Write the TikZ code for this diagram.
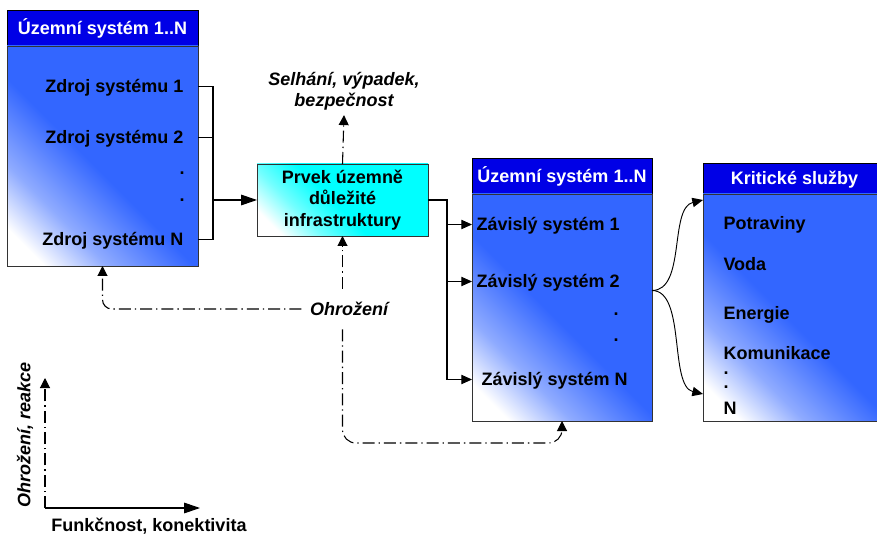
\documentclass[tikz,border=0pt]{standalone}
\usepackage{fontspec}
\setmainfont{Liberation Sans}
\usetikzlibrary{positioning,arrows.meta,calc}

\definecolor{headblue}{RGB}{0,0,230}
\definecolor{bodyblue}{RGB}{51,102,255}
\definecolor{infcyan}{RGB}{0,255,255}
\pgfdeclareverticalshading{bodyshade}{100bp}{color(0bp)=(white); color(21bp)=(white); color(32bp)=(bodyblue!55!white); color(47bp)=(bodyblue); color(100bp)=(bodyblue)}
\pgfdeclareverticalshading{cyanshade}{100bp}{color(0bp)=(white); color(22bp)=(white); color(34bp)=(infcyan!55!white); color(47bp)=(infcyan); color(100bp)=(infcyan)}

\begin{document}
\begin{tikzpicture}[x=0.75pt,y=-0.75pt,
  font=\bfseries\fontsize{13.5}{16}\selectfont,
  line width=0.8pt,
  head/.style={draw=black,line width=0.6pt,fill=headblue,text=white,inner sep=0pt,outer sep=0pt,text height=9.7pt,text depth=0pt},
  body/.style={draw=black!80,line width=0.6pt,shade,shading=bodyshade,shading angle=-45,inner sep=0pt,outer sep=0pt},
  infra/.style={draw=black!80,line width=0.6pt,shade,shading=cyanshade,shading angle=-45,align=center,inner sep=0pt,outer sep=0pt,
    minimum width=128.25pt,minimum height=54pt},
  item/.style={inner sep=0pt,text height=9.7pt,text depth=0pt},
  dotn/.style={inner sep=0pt},
  note/.style={font=\bfseries\itshape\fontsize{13.5}{16}\selectfont,align=center},
  sig/.style={-{Triangle[length=8pt,width=7pt]}},
  bigsig/.style={-{Triangle[length=12pt,width=8pt]}},
  threat/.style={dash pattern=on 9pt off 3pt on 1pt off 3pt,-{Triangle[length=7.5pt,width=7.5pt]}},
]
\useasboundingbox (0,0) rectangle (877,534);

% source territory
\node[head,minimum width=143.25pt,minimum height=27pt,anchor=north west] (b1head) at (7,10) {Územní systém 1..N};
\node[body,minimum width=143.25pt,minimum height=165pt,below=0pt of b1head] (b1body) {};
\node[item,anchor=east] (z1) at (184,86.5) {Zdroj systému 1};
\node[item,anchor=east] (z2) at (184,137.5) {Zdroj systému 2};
\node[dotn] (zd1) at (182,173) {.};
\node[dotn] (zd2) at (182,200) {.};
\node[item,anchor=east] (zN) at (184,239.5) {Zdroj systému N};

% infrastructure element
\node[infra,anchor=north west] (cbox) at (257,164) {Prvek územně\\důležité\\infrastruktury};
\node[note] (fail) at (344,91) {Selhání, výpadek,\\bezpečnost};

% dependent territory
\node[head,minimum width=135pt,minimum height=27pt,anchor=north west] (b2head) at (472,158) {Územní systém 1..N};
\node[body,minimum width=135pt,minimum height=170.25pt,below=0pt of b2head] (b2body) {};
\node[item,anchor=west] (zav1) at (476,224.5) {Závislý systém 1};
\node[item,anchor=west] (zav2) at (476,281.5) {Závislý systém 2};
\node[dotn] (zavd1) at (616,314) {.};
\node[dotn] (zavd2) at (616,340) {.};
\node[item,anchor=west] (zavN) at (481,379.5) {Závislý systém N};

% critical services
\node[head,minimum width=137.25pt,minimum height=23.25pt,anchor=north west] (b3head) at (703,163) {Kritické služby};
\node[body,minimum width=137.25pt,minimum height=170.25pt,below=0pt of b3head] (b3body) {};
\node[item,anchor=west] (s1) at (723,223) {Potraviny};
\node[item,anchor=west] (s2) at (723,264.5) {Voda};
\node[item,anchor=west] (s3) at (723,313) {Energie};
\node[item,anchor=west] (s4) at (723,353) {Komunikace};
\node[dotn,anchor=west] (sd1) at (723,373) {.};
\node[dotn,anchor=west] (sd2) at (723,387) {.};
\node[item,anchor=west] (sN) at (723,408.5) {N};

% threat label
\node[note,inner xsep=6pt,inner ysep=10pt,text height=9.7pt,text depth=0pt] (ohr) at (349,309) {Ohrožení};

% wiring
\coordinate (join) at ($(b1body.east)+(15,0)$);
\coordinate (fork) at ($(b2body.west)+(-25,0)$);
\coordinate (brace) at ($(b2body.east)+(0,-17)$);
\draw (b1body.east |- z1) -| (join |- zN) -- (b1body.east |- zN);
\draw (b1body.east |- z2) -- (join |- z2);
\draw[bigsig] (join |- cbox.west) -- (cbox.west);
\draw[sig] (cbox.east) -| (fork |- zavN) -- (b2body.west |- zavN);
\draw[sig] (fork |- zav1) -- (b2body.west |- zav1);
\draw[sig] (fork |- zav2) -- (b2body.west |- zav2);
\draw[sig,line width=0.7pt] (brace) .. controls +(34,0) and +(-34,8) .. ($(b3body.north west)+(0,6)$);
\draw[sig,line width=0.7pt] (brace) .. controls +(34,0) and +(-34,-8) .. ($(b3body.south west)+(0,-27)$);

% threats
\draw[threat] (cbox.north) -- (fail.south);
\draw[threat,rounded corners=7pt] (ohr.west) -| (b1body.south);
\draw[threat] (ohr.north -| cbox.south) -- (cbox.south);
\draw[threat,rounded corners=10pt] (ohr.south -| cbox.south) |- ($(b2body.south)+(0,22)$) -- (b2body.south);

% axes
\coordinate (orig) at (45,508);
\coordinate (ytop) at (45,378);
\coordinate (xend) at (200,508);
\draw[threat] (orig) -- (ytop);
\draw[bigsig] (orig) -- (xend);
\node[note,rotate=90] (ylab) at (25,435) {Ohrožení, reakce};
\node[item] (xlab) at (149,525) {Funkčnost, konektivita};
\end{tikzpicture}
\end{document}
